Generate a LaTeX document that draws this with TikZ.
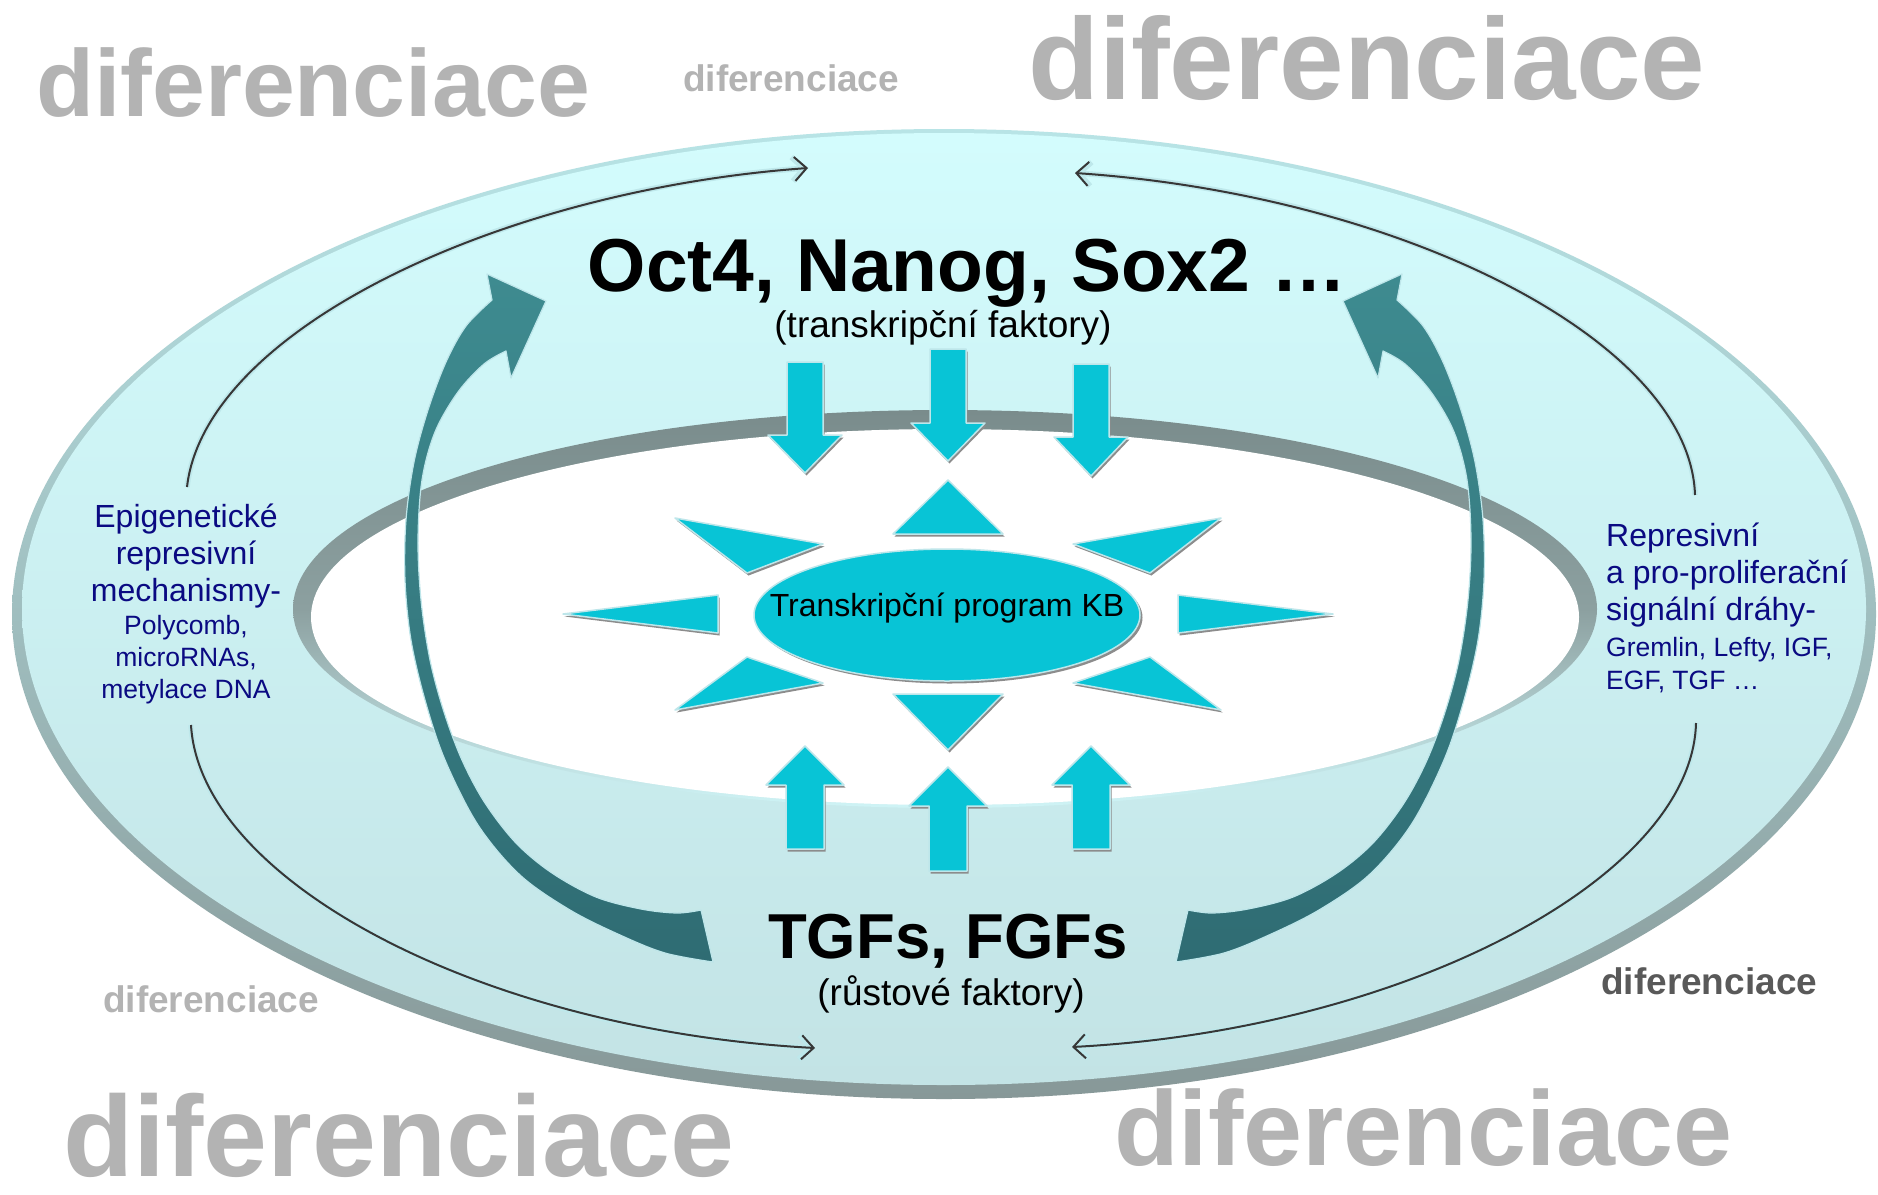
\documentclass[tikz,border=0pt]{standalone}
\usepackage{fontspec}
\setmainfont{Liberation Sans}
\usetikzlibrary{shapes.geometric,arrows.meta}
\definecolor{cyanfill}{RGB}{8,196,214}
\definecolor{cyanedge}{RGB}{190,230,234}
\definecolor{tealtop}{RGB}{62,139,144}
\definecolor{tealbot}{RGB}{47,108,115}
\definecolor{navytext}{RGB}{10,10,130}
\definecolor{difgray}{RGB}{179,179,179}
\definecolor{difdark}{RGB}{89,89,89}
\definecolor{outertop}{RGB}{211,252,253}
\definecolor{outerbot}{RGB}{195,227,229}
\definecolor{rimtop}{RGB}{184,228,230}
\definecolor{rimbot}{RGB}{135,152,152}
\definecolor{welltop}{RGB}{122,140,140}
\definecolor{wellmid}{RGB}{140,160,160}
\definecolor{wellbot}{RGB}{207,244,246}
\definecolor{halo}{RGB}{190,232,235}
\definecolor{darkline}{RGB}{55,55,55}
\definecolor{shadowgray}{RGB}{140,140,140}
\newcommand{\fsz}[1]{\fontsize{#1}{#1}\selectfont}
\newcommand{\cyanshape}[1]{\fill[shadowgray,shift={(1.5,2.5)}] #1;\filldraw[ray] #1;}
\newcommand{\dnarr}[4]{\cyanshape{({#1-18},#2) -- ({#1+18},#2) -- ({#1+18},#3) -- ({#1+37},#3) -- (#1,#4) -- ({#1-37},#3) -- ({#1-18},#3) -- cycle}}
\newcommand{\uparr}[4]{\cyanshape{({#1-19},#2) -- ({#1+19},#2) -- ({#1+19},#3) -- ({#1+39},#3) -- (#1,#4) -- ({#1-39},#3) -- ({#1-19},#3) -- cycle}}
\newcommand{\bigarrowpath}{%
\shadedraw[top color=tealtop, bottom color=tealbot, draw=cyanedge, line width=1.2pt, line join=round]
 plot[smooth, tension=0.55] coordinates {(492,300) (466,326) (446,362) (428,410) (414,462) (406,520) (405,580) (411,640) (425,700) (445,760) (478,825) (520,875) (570,910) (620,935) (665,953) (713,962)}
 -- plot[smooth, tension=0.55] coordinates {(701,910) (677,913) (641,909) (596,897) (552,873) (516,843) (485,803) (462,760) (444,712) (430,660) (421,600) (418,540) (422,480) (435,432) (458,392) (484,364) (506,351)}
 -- (511,378) -- (546,301) -- (487,274) -- cycle;}
\begin{document}
\begin{tikzpicture}[x=1pt,y=-1pt,
  dif/.style={inner sep=0, anchor=base west, text=difgray},
  ray/.style={fill=cyanfill, draw=cyanedge, line width=1.5pt, line join=round},
  thinhalo/.style={draw=halo, line width=5.5pt, -{Straight Barb[length=12pt,width=24pt]}},
  thinline/.style={draw=darkline, line width=2pt, -{Straight Barb[length=12pt,width=24pt]}},
  bluec/.style={inner sep=0, anchor=base, text=navytext},
  bluel/.style={inner sep=0, anchor=base west, text=navytext},
  big/.style={font=\fsz{32}},
  small/.style={font=\fsz{26.5}},
  title/.style={inner sep=0, anchor=base, text=black}
]
\useasboundingbox (0,0) rectangle (1878,1194);
\fill[white] (0,0) rectangle (1878,1194);

% outer ring
\shade[top color=rimtop, bottom color=rimbot] (944,614) ellipse [x radius=932pt, y radius=485pt];
\shade[top color=outertop, bottom color=outerbot] (944,609) ellipse [x radius=922pt, y radius=476pt];
% inner well
\shade[top color=welltop, bottom color=wellbot, middle color=wellmid] (945,609) ellipse [x radius=652pt, y radius=199pt];
\fill[white] (945,617) ellipse [x radius=634pt, y radius=188pt];

% thin arrows
\coordinate (tlS) at (187,487); \coordinate (tlE) at (808,168);
\coordinate (trS) at (1695,495); \coordinate (trE) at (1075,173);
\coordinate (blS) at (191,725); \coordinate (blE) at (815,1048);
\coordinate (brS) at (1696,723); \coordinate (brE) at (1072,1047);
\foreach \s in {thinhalo,thinline}{
  \draw[\s] (tlS) .. controls (205,330) and (500,190) .. (tlE);
  \draw[\s] (trS) .. controls (1690,340) and (1400,195) .. (trE);
  \draw[\s] (blS) .. controls (200,880) and (480,1030) .. (blE);
  \draw[\s] (brS) .. controls (1692,880) and (1400,1030) .. (brE);
}

% big curved arrows
\bigarrowpath
\begin{scope}[xshift=1889pt, xscale=-1]
\bigarrowpath
\end{scope}

% star rays
\cyanshape{(948,480) -- (893,534) -- (1003,534) -- cycle}
\cyanshape{(893,694) -- (1003,694) -- (948,750) -- cycle}
\cyanshape{(563,614) -- (718,595) -- (718,633) -- cycle}
\cyanshape{(1178,595) -- (1178,633) -- (1333,614) -- cycle}
\cyanshape{(675,518) -- (823,544) -- (747,573) -- cycle}
\cyanshape{(1221,518) -- (1073,544) -- (1150,573) -- cycle}
\cyanshape{(747,657) -- (823,683) -- (675,710) -- cycle}
\cyanshape{(1150,657) -- (1073,683) -- (1221,710) -- cycle}

% down and up arrows
\dnarr{805}{362}{435}{473}
\dnarr{948}{349}{423}{461}
\dnarr{1091}{364}{437}{476}
\uparr{805}{849}{785}{746}
\uparr{948}{871}{806}{767}
\uparr{1091}{849}{785}{746}

% central ellipse
\fill[shadowgray] (949.5,617.5) ellipse [x radius=193pt, y radius=66pt];
\node[ellipse, minimum width=386pt, minimum height=132pt, inner sep=0, fill=cyanfill, draw=cyanedge, line width=1.5pt] (kb) at (947,615) {};
\node[title, font=\fsz{32}] (kbt) at (947,616) {Transkripční program KB};

% titles
\node[title, font={\bfseries\fsz{75}}] (oct) at (967,291) {Oct4, Nanog, Sox2 …};
\node[title, font=\fsz{37}] (octsub) at (943,337) {(transkripční faktory)};
\node[title, font={\bfseries\fsz{63.5}}] (tgf) at (948,958) {TGFs, FGFs};
\node[title, font=\fsz{37}] (tgfsub) at (951,1005) {(růstové faktory)};

% left block
\node[bluec, big] (epi1) at (186,527) {Epigenetické};
\node[bluec, big] (epi2) at (186,564) {represivní};
\node[bluec, big] (epi3) at (186,601) {mechanismy-};
\node[bluec, small] (epi4) at (186,634) {Polycomb,};
\node[bluec, small] (epi5) at (186,666) {microRNAs,};
\node[bluec, small] (epi6) at (186,698) {metylace DNA};

% right block
\node[bluel, big] (rep1) at (1606,546) {Represivní};
\node[bluel, big] (rep2) at (1606,583) {a pro-proliferační};
\node[bluel, big] (rep3) at (1606,620) {signální dráhy-};
\node[bluel, small] (rep4) at (1606,656) {Gremlin, Lefty, IGF,};
\node[bluel, small] (rep5) at (1606,689) {EGF, TGF …};

% diferenciace labels
\node[dif, font={\bfseries\fsz{95}}] (difA) at (36,116) {diferenciace};
\node[dif, font={\bfseries\fsz{37}}] (difB) at (683,91) {diferenciace};
\node[dif, font={\bfseries\fsz{116}}] (difC) at (1028,99) {diferenciace};
\node[dif, font={\bfseries\fsz{37}}] (difD) at (103,1012) {diferenciace};
\node[dif, font={\bfseries\fsz{37}}, text=difdark] (difE) at (1601,994) {diferenciace};
\node[dif, font={\bfseries\fsz{115}}] (difF) at (63,1176) {diferenciace};
\node[dif, font={\bfseries\fsz{106}}] (difG) at (1114,1165) {diferenciace};
\end{tikzpicture}
\end{document}
